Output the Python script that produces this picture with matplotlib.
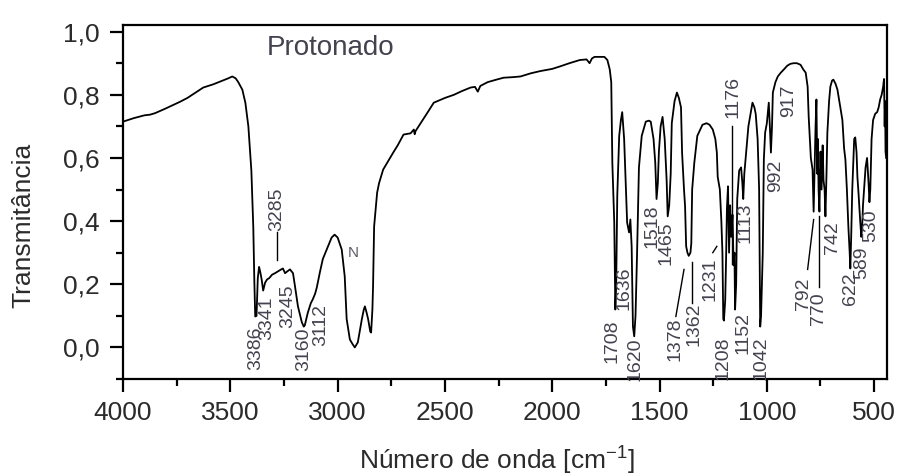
import matplotlib
matplotlib.use("Agg")
import matplotlib.pyplot as plt
from matplotlib.ticker import MultipleLocator, FuncFormatter

plt.rcParams["font.family"] = ["Liberation Sans", "DejaVu Sans"]
plt.rcParams["mathtext.default"] = "regular"

# spectrum (cm-1, transmittance)
wavenumber = [
    4000, 3950, 3900, 3874, 3850, 3800, 3734, 3700, 3660, 3626, 3580, 3547,
    3510, 3491, 3475, 3463, 3444, 3430, 3416, 3402, 3393, 3388, 3384, 3378,
    3372, 3366, 3361, 3354, 3347, 3338, 3329, 3318, 3306, 3292, 3280, 3268,
    3255, 3245, 3236, 3222, 3208, 3199, 3185, 3167, 3158, 3153, 3139, 3125,
    3116, 3105, 3097, 3083, 3069, 3051, 3028, 3014, 3000, 2981, 2967, 2958,
    2943, 2930, 2920, 2906, 2887, 2878, 2873, 2865, 2858, 2848, 2844, 2838,
    2835, 2830, 2816, 2807, 2788, 2769, 2741, 2720, 2693, 2660, 2645, 2641,
    2637, 2613, 2580, 2552, 2500, 2458, 2420, 2380, 2360, 2347, 2335, 2301,
    2260, 2227, 2180, 2148, 2100, 2056, 2000, 1963, 1920, 1872, 1840, 1826,
    1815, 1803, 1780, 1757, 1743, 1732, 1725, 1720, 1711, 1706, 1702, 1697,
    1688, 1680, 1674, 1665, 1656, 1651, 1642, 1636, 1630, 1624, 1618, 1612,
    1605, 1596, 1583, 1564, 1550, 1541, 1528, 1520, 1514, 1508, 1503, 1495,
    1486, 1476, 1467, 1462, 1455, 1448, 1443, 1430, 1419, 1410, 1400, 1395,
    1386, 1381, 1376, 1370, 1364, 1356, 1352, 1348, 1338, 1324, 1300, 1281,
    1267, 1252, 1240, 1233, 1229, 1219, 1212, 1207, 1203, 1200, 1194, 1190,
    1186, 1181, 1176, 1171, 1166, 1160, 1155, 1151, 1148, 1143, 1138, 1129,
    1120, 1114, 1110, 1105, 1100, 1086, 1067, 1058, 1052, 1043, 1036, 1031,
    1027, 1019, 1014, 1008, 1000, 991, 986, 981, 976, 972, 960, 949,
    935, 921, 905, 890, 875, 860, 843, 830, 819, 810, 805, 795,
    787, 782, 778, 773, 769, 765, 762, 759, 755, 750, 745, 740,
    736, 731, 727, 722, 718, 710, 704, 696, 690, 680, 671, 660,
    648, 640, 634, 627, 620, 614, 611, 607, 602, 597, 593, 588,
    582, 578, 573, 565, 560, 556, 552, 546, 540, 533, 526, 522,
    518, 512, 505, 495, 486, 479, 472, 465, 458, 454, 451, 449,
    447, 444,
]
transmittance = [
    0.715, 0.726, 0.735, 0.737, 0.742, 0.757, 0.778, 0.790, 0.808, 0.823, 0.833, 0.842,
    0.852, 0.858, 0.852, 0.840, 0.816, 0.775, 0.700, 0.560, 0.380, 0.205, 0.098, 0.100,
    0.220, 0.255, 0.240, 0.215, 0.180, 0.205, 0.215, 0.220, 0.230, 0.235, 0.240, 0.245,
    0.250, 0.235, 0.240, 0.247, 0.235, 0.195, 0.130, 0.080, 0.066, 0.070, 0.110, 0.140,
    0.152, 0.170, 0.190, 0.237, 0.280, 0.310, 0.348, 0.357, 0.348, 0.310, 0.225, 0.090,
    0.025, 0.010, 0.000, 0.016, 0.090, 0.120, 0.130, 0.110, 0.090, 0.050, 0.047, 0.120,
    0.193, 0.383, 0.490, 0.520, 0.563, 0.585, 0.617, 0.640, 0.674, 0.678, 0.690, 0.675,
    0.685, 0.710, 0.745, 0.775, 0.790, 0.800, 0.812, 0.823, 0.825, 0.810, 0.828, 0.840,
    0.848, 0.854, 0.856, 0.858, 0.868, 0.875, 0.882, 0.890, 0.900, 0.910, 0.912, 0.900,
    0.915, 0.920, 0.920, 0.920, 0.910, 0.880, 0.840, 0.585, 0.395, 0.120, 0.200, 0.480,
    0.670, 0.720, 0.745, 0.660, 0.490, 0.395, 0.364, 0.405, 0.320, 0.066, 0.035, 0.100,
    0.290, 0.570, 0.670, 0.715, 0.718, 0.715, 0.660, 0.585, 0.470, 0.520, 0.620, 0.700,
    0.730, 0.660, 0.530, 0.415, 0.450, 0.550, 0.710, 0.780, 0.807, 0.790, 0.760, 0.617,
    0.500, 0.446, 0.320, 0.300, 0.290, 0.300, 0.330, 0.500, 0.585, 0.670, 0.705, 0.710,
    0.705, 0.690, 0.660, 0.617, 0.540, 0.500, 0.400, 0.300, 0.090, 0.085, 0.150, 0.280,
    0.440, 0.510, 0.300, 0.450, 0.350, 0.420, 0.260, 0.300, 0.120, 0.200, 0.470, 0.560,
    0.570, 0.520, 0.470, 0.550, 0.590, 0.700, 0.775, 0.760, 0.740, 0.660, 0.500, 0.066,
    0.100, 0.300, 0.595, 0.680, 0.710, 0.775, 0.700, 0.617, 0.700, 0.807, 0.840, 0.858,
    0.870, 0.880, 0.892, 0.898, 0.900, 0.900, 0.895, 0.880, 0.870, 0.826, 0.730, 0.600,
    0.563, 0.430, 0.550, 0.700, 0.785, 0.550, 0.660, 0.500, 0.430, 0.620, 0.500, 0.640,
    0.530, 0.500, 0.415, 0.550, 0.680, 0.780, 0.826, 0.845, 0.848, 0.835, 0.816, 0.770,
    0.720, 0.630, 0.595, 0.500, 0.380, 0.300, 0.250, 0.350, 0.500, 0.590, 0.660, 0.665,
    0.617, 0.540, 0.490, 0.400, 0.350, 0.380, 0.450, 0.510, 0.570, 0.600, 0.520, 0.460,
    0.500, 0.660, 0.720, 0.740, 0.745, 0.760, 0.785, 0.800, 0.826, 0.850, 0.700, 0.780,
    0.620, 0.600,
]

# band labels: text, anchor wavenumber, top of label (transmittance)
peak_labels = ["3386", "3341", "3285", "3245", "3160", "3112",
               "1708", "1636", "1620", "1518", "1465", "1378", "1362",
               "1231", "1208", "1176", "1152", "1113", "1042", "992",
               "917", "792", "770", "742", "622", "589", "530"]
label_x = [3380, 3329, 3282, 3231, 3157, 3079,
           1720, 1665, 1615, 1537, 1471, 1429, 1338,
           1267, 1205, 1157, 1110, 1100, 1029, 958,
           898, 829, 759, 694, 611, 556, 518]
label_top = [0.066, 0.161, 0.506, 0.199, 0.063, 0.136,
             0.089, 0.256, 0.032, 0.453, 0.399, 0.095, 0.142,
             0.285, 0.035, 0.858, 0.111, 0.459, 0.035, 0.595,
             0.832, 0.222, 0.174, 0.399, 0.237, 0.320, 0.437]

# leader lines (x0, y0, x1, y1)
leaders = [
    (3282, 0.367, 3282, 0.278),
    (1424, 0.098, 1386, 0.247),
    (1348, 0.142, 1348, 0.269),
    (1252, 0.300, 1233, 0.320),
    (1162, 0.700, 1162, 0.263),
    (810, 0.247, 782, 0.405),
    (755, 0.190, 755, 0.415),
]

label_color = "#45424f"
text_color = "#2b2b2b"

fig = plt.figure(figsize=(9.02, 4.76), dpi=100)
ax = fig.add_axes([0.1364, 0.2038, 0.8470, 0.7437])

ax.plot(wavenumber, transmittance, color="black", linewidth=1.3)

for x0, y0, x1, y1 in leaders:
    ax.plot([x0, x1], [y0, y1], color="black", linewidth=1.0)

for text, x, y in zip(peak_labels, label_x, label_top):
    ax.text(x, y, text, rotation=90, ha="center", va="top",
            fontsize=14, color=label_color)

ax.text(2925, 0.30, "N", ha="center", va="center", fontsize=11, color="#5c5a68")
ax.text(0.271, 0.915, "Protonado", transform=ax.transAxes, ha="center",
        va="baseline", fontsize=20, color=label_color)

ax.set_xlim(4000, 440)
ax.set_ylim(-0.1, 1.021)
ax.xaxis.set_major_locator(MultipleLocator(500))
ax.xaxis.set_minor_locator(MultipleLocator(250))
ax.yaxis.set_major_locator(MultipleLocator(0.2))
ax.yaxis.set_minor_locator(MultipleLocator(0.1))
ax.yaxis.set_major_formatter(FuncFormatter(lambda v, p: f"{v:.1f}".replace(".", ",")))
ax.xaxis.set_major_formatter(FuncFormatter(lambda v, p: f"{v:.0f}"))

ax.tick_params(axis="both", which="major", direction="out", length=9.5,
               width=1.6, labelsize=19, labelcolor=text_color, pad=6)
ax.tick_params(axis="both", which="minor", direction="out", length=5, width=1.6)
ax.tick_params(axis="y", which="major", pad=7)
for spine in ax.spines.values():
    spine.set_linewidth(1.6)

fig.text(497 / 902, 1 - 461 / 476, "Número de onda [cm$^{-1}$]", ha="center",
         va="center", fontsize=19, color=text_color)
fig.text(23 / 902, 1 - 225 / 476, "Transmitância", rotation=90, ha="center",
         va="center", fontsize=19, color=text_color)

fig.savefig("out.png", dpi=100)
